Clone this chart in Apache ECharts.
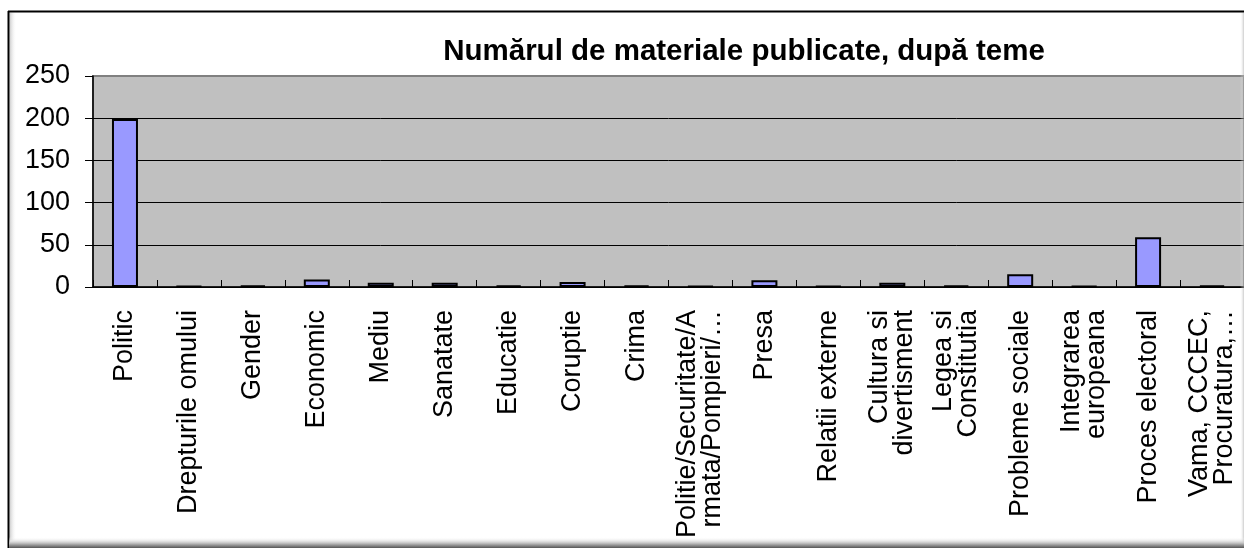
<!DOCTYPE html>
<html>
<head>
<meta charset="utf-8">
<script src="https://cdn.jsdelivr.net/npm/echarts@6/dist/echarts.min.js"></script>
<style>
  html, body { margin: 0; padding: 0; background: #ffffff; }
  #chart { width: 1244px; height: 550px; }
</style>
</head>
<body>
<div id="chart"></div>
<script>
// Themes of published materials and how many items fall under each
const categories = [
  'Politic',
  'Drepturile omului',
  'Gender',
  'Economic',
  'Mediu',
  'Sanatate',
  'Educatie',
  'Coruptie',
  'Crima',
  'Politie/Securitate/A\nrmata/Pompieri/…',
  'Presa',
  'Relatii externe',
  'Cultura si\ndivertisment',
  'Legea si\nConstitutia',
  'Probleme sociale',
  'Integrarea\neuropeana',
  'Proces electoral',
  'Vama, CCCEC,\nProcuratura,…'
];
const counts = [199, 1, 2, 9, 5, 5, 2, 6, 2, 1, 8, 1, 5, 2, 15, 1, 59, 2];
const yTicks = { min: 0, max: 250, interval: 50 };
const titleText = 'Numărul de materiale publicate, după teme';

const chart = echarts.init(document.getElementById('chart'), null, { renderer: 'canvas' });

const labelFont = '"Liberation Sans", Arial, sans-serif';

chart.setOption({
  animation: false,
  backgroundColor: '#ffffff',
  title: {
    text: titleText,
    left: 739,
    top: 32,
    textAlign: 'center',
    textStyle: {
      fontFamily: '"Liberation Sans", Arial, sans-serif',
      fontWeight: 'bold',
      fontSize: 29.5,
      color: '#000000'
    }
  },
  grid: {
    left: 93,
    top: 76,
    right: 0,
    bottom: 263,
    show: true,
    backgroundColor: '#c0c0c0',
    borderColor: '#808080',
    borderWidth: 2,
    containLabel: false
  },
  xAxis: {
    type: 'category',
    data: categories,
    boundaryGap: true,
    axisLine: { show: true, lineStyle: { color: '#000000', width: 1.5 } },
    axisTick: { show: true, inside: true, length: 7, alignWithLabel: false, lineStyle: { color: '#000000' } },
    axisLabel: {
      interval: 0,
      rotate: 90,
      margin: 23,
      fontFamily: labelFont,
      fontSize: 27,
      lineHeight: 25,
      color: '#000000'
    }
  },
  yAxis: {
    type: 'value',
    min: yTicks.min,
    max: yTicks.max,
    interval: yTicks.interval,
    axisLine: { show: true, lineStyle: { color: '#000000', width: 1.5 } },
    axisTick: { show: true, inside: false, length: 8, lineStyle: { color: '#000000' } },
    axisLabel: {
      margin: 23,
      fontFamily: labelFont,
      fontSize: 27,
      color: '#000000'
    },
    splitLine: {
      show: true,
      showMaxLine: false,
      lineStyle: { color: '#000000', width: 1 }
    }
  },
  series: [{
    type: 'bar',
    data: counts,
    barWidth: 26,
    itemStyle: {
      color: '#9999ff',
      borderColor: '#000000',
      borderWidth: 2
    }
  }],
  graphic: [
    // outer frame: top and left edges
    { type: 'line', silent: true, z: 100,
      shape: { x1: 8, y1: 11.5, x2: 1244, y2: 11.5 },
      style: { stroke: '#000000', lineWidth: 2 } },
    { type: 'line', silent: true, z: 100,
      shape: { x1: 8.5, y1: 11, x2: 8.5, y2: 548 },
      style: { stroke: '#000000', lineWidth: 2 } },
    // soft inner shading along the left edge
    { type: 'rect', silent: true, z: 99,
      shape: { x: 9.5, y: 12.5, width: 7, height: 528 },
      style: { fill: new echarts.graphic.LinearGradient(0, 0, 1, 0, [
        { offset: 0, color: 'rgba(150,150,150,0.5)' },
        { offset: 1, color: 'rgba(255,255,255,0)' }
      ]) } },
    // shadow along the bottom edge
    { type: 'rect', silent: true, z: 100,
      shape: { x: 9, y: 537, width: 1235, height: 11 },
      style: { fill: new echarts.graphic.LinearGradient(0, 0, 0, 1, [
        { offset: 0, color: 'rgba(255,255,255,0)' },
        { offset: 0.6, color: '#b8b8b8' },
        { offset: 1, color: '#555555' }
      ]) } },
    // faint shading at the right edge
    { type: 'rect', silent: true, z: 99,
      shape: { x: 1240, y: 12.5, width: 4, height: 530 },
      style: { fill: new echarts.graphic.LinearGradient(0, 0, 1, 0, [
        { offset: 0, color: 'rgba(255,255,255,0)' },
        { offset: 1, color: 'rgba(170,170,170,0.6)' }
      ]) } }
  ]
});
</script>
</body>
</html>
